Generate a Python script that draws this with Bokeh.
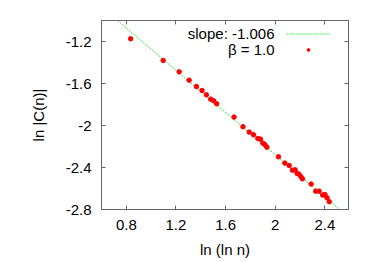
from bokeh.plotting import figure
from bokeh.models import (ColumnDataSource, FixedTicker, LinearAxis, Range1d,
                          Legend, LegendItem, Label)
from bokeh.embed import file_html
from bokeh.resources import INLINE

# ---- data ----
ln_ln_n = [0.835, 1.097, 1.226, 1.306, 1.365, 1.410, 1.445, 1.480, 1.504, 1.528,
           1.668, 1.740, 1.790, 1.825, 1.860, 1.881, 1.900, 1.916, 1.932, 2.026,
           2.077, 2.112, 2.138, 2.160, 2.176, 2.190, 2.206, 2.219, 2.289, 2.326,
           2.353, 2.382, 2.400, 2.417, 2.435]
ln_C = [-1.174, -1.381, -1.489, -1.568, -1.629, -1.667, -1.708, -1.749, -1.765, -1.793,
        -1.920, -2.012, -2.063, -2.089, -2.124, -2.130, -2.168, -2.181, -2.206, -2.298,
        -2.358, -2.381, -2.425, -2.422, -2.457, -2.463, -2.486, -2.508, -2.558, -2.625,
        -2.625, -2.663, -2.657, -2.688, -2.726]

fit_slope = -1.006
fit_intercept = -0.267
fit_x = [0.6, 2.6]
fit_y = [fit_intercept + fit_slope * v for v in fit_x]

x_ticks = [0.8, 1.2, 1.6, 2.0, 2.4]
x_tick_labels = ["0.8", "1.2", "1.6", "2", "2.4"]
y_ticks = [-1.2, -1.6, -2.0, -2.4, -2.8]
y_tick_labels = ["-1.2", "-1.6", "-2", "-2.4", "-2.8"]

legend_line_text = "slope: -1.006"
legend_point_text = "\u03b2 = 1.0"

FONT = "Liberation Sans"
FS = "15px"
FRAME = "#666666"

p = figure(width=366, height=261, output_backend="svg", toolbar_location=None,
           x_range=Range1d(0.6, 2.59), y_range=Range1d(-2.8, -1.0),
           min_border_left=101, min_border_right=18, min_border_top=20,
           min_border_bottom=52)
p.xgrid.visible = False
p.ygrid.visible = False
p.outline_line_color = FRAME
p.background_fill_color = "white"
p.border_fill_color = "white"

line_r = p.line(fit_x, fit_y, line_color="#44e044", line_width=1, line_dash="2 1")
src = ColumnDataSource(dict(x=ln_ln_n, y=ln_C))
pts_r = p.scatter("x", "y", source=src, size=4.5, fill_color="#ff0000",
                  line_color="#ff0000")


def style_axis(ax, ticks, show_labels):
    ax.ticker = FixedTicker(ticks=ticks)
    ax.major_tick_in = 4
    ax.major_tick_out = 0
    ax.minor_tick_in = 0
    ax.minor_tick_out = 0
    ax.axis_line_color = FRAME
    ax.major_tick_line_color = FRAME
    ax.major_label_text_font = FONT
    ax.major_label_text_font_size = FS if show_labels else "0px"
    ax.major_label_text_color = "black" if show_labels else None
    ax.axis_label_text_font = FONT
    ax.axis_label_text_font_size = FS
    ax.axis_label_text_font_style = "normal"
    ax.axis_label_text_color = "black"


xa = p.xaxis[0]
ya = p.yaxis[0]
style_axis(xa, x_ticks, True)
style_axis(ya, y_ticks, True)
xa.major_label_overrides = dict(zip(x_ticks, x_tick_labels))
ya.major_label_overrides = dict(zip(y_ticks, y_tick_labels))
xa.axis_label = "ln (ln n)"
ya.axis_label = "ln |C(n)|"
xa.major_label_standoff = 10
xa.axis_label_standoff = 8
ya.major_label_standoff = 10
ya.axis_label_standoff = 16

top = LinearAxis()
right = LinearAxis()
style_axis(top, x_ticks, False)
style_axis(right, y_ticks, False)
top.major_label_standoff = 0
right.major_label_standoff = 0
p.add_layout(top, "above")
p.add_layout(right, "right")

legend = Legend(items=[LegendItem(label="", renderers=[line_r]),
                       LegendItem(label="", renderers=[pts_r])],
                location=(185, 152), orientation="vertical",
                glyph_width=44, glyph_height=7, label_width=0, label_height=16,
                label_standoff=0, padding=0, spacing=0, margin=0,
                border_line_alpha=0, background_fill_alpha=0)
p.add_layout(legend, "center")

for txt, yy in ((legend_line_text, 176), (legend_point_text, 160)):
    p.add_layout(Label(x=173, y=yy, x_units="screen", y_units="screen", text=txt,
                       text_align="right", text_baseline="middle",
                       text_font=FONT, text_font_size=FS, text_color="black"))

open("out.html", "w").write(file_html(p, INLINE))
